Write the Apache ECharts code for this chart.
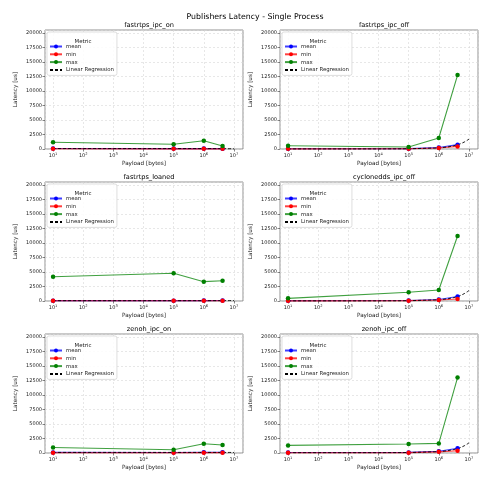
<!DOCTYPE html>
<html>
<head>
<meta charset="utf-8">
<script src="https://cdn.jsdelivr.net/npm/echarts@6.0.0/dist/echarts.min.js"></script>
<style>
  html, body { margin: 0; padding: 0; background: #fff; }
  #chart { width: 500px; height: 495px; }
</style>
</head>
<body>
<div id="chart"></div>
<script>
// payload sizes (bytes) measured in every run
var payload = [10, 100000, 1000000, 4194304];
// x positions used for the regression curve
var regX = [10, 100, 1000, 10000, 100000, 1000000, 2000000, 3000000, 4000000, 5000000, 6000000, 7000000, 8000000, 9000000, 10000000];

var panelNames = ['fastrtps_ipc_on', 'fastrtps_ipc_off', 'fastrtps_loaned', 'cyclonedds_ipc_off', 'zenoh_ipc_on', 'zenoh_ipc_off'];

var meanVals = [
  [90, 70, 90, 60],
  [50, 60, 250, 750],
  [60, 60, 70, 80],
  [50, 80, 250, 780],
  [100, 80, 120, 110],
  [80, 100, 300, 800]
];
var minVals = [
  [40, 30, 50, 30],
  [30, 40, 180, 450],
  [40, 40, 50, 50],
  [30, 60, 180, 350],
  [50, 40, 60, 60],
  [50, 60, 200, 400]
];
var maxVals = [
  [1150, 810, 1430, 520],
  [570, 350, 1900, 12740],
  [4190, 4770, 3330, 3500],
  [460, 1500, 1900, 11200],
  [960, 570, 1600, 1370],
  [1310, 1550, 1650, 13000]
];
var regVals = [
  [80, 80, 80, 80, 80, 75, 70, 65, 60, 55, 50, 45, 40, 35, 30],
  [20, 20, 20, 20, 40, 190, 356, 524, 692, 860, 1030, 1196, 1364, 1532, 1700],
  [60, 60, 60, 60, 60, 60, 60, 60, 65, 65, 65, 70, 70, 70, 70],
  [30, 30, 30, 30, 50, 210, 380, 560, 740, 910, 1090, 1270, 1440, 1620, 1800],
  [100, 100, 100, 100, 100, 100, 100, 100, 100, 95, 95, 95, 90, 90, 90],
  [60, 60, 60, 60, 80, 230, 400, 570, 740, 900, 1070, 1240, 1410, 1580, 1750]
];
var yTicks = { min: 0, max: 20500, interval: 2500 };

var grids = [
  [45, 30], [280, 30],
  [45, 182], [280, 182],
  [45, 334], [280, 334]
];
var GW = 198, GH = 119;

var chart = echarts.init(document.getElementById('chart'));
var font = 'DejaVu Sans';

var option = {
  animation: false,
  title: [{
    text: 'Publishers Latency - Single Process',
    left: 250, top: 8, textAlign: 'center',
    textStyle: { fontFamily: font, fontSize: 7.8, fontWeight: 'normal', color: '#000' }
  }],
  legend: [], grid: [], xAxis: [], yAxis: [], series: []
};

function supLabel(v) {
  var e = Math.round(Math.log(v) / Math.LN10);
  return '{b|10}{s|' + e + '}';
}

panelNames.forEach(function (name, i) {
  var gx = grids[i][0], gy = grids[i][1];
  option.title.push({
    text: name, left: gx + GW / 2, top: gy - 13, textAlign: 'center',
    textStyle: { fontFamily: font, fontSize: 6.6, fontWeight: 'normal', color: '#000' }
  });
  option.title.push({
    text: 'Metric', left: gx + 33, top: gy + 4, textAlign: 'center',
    textStyle: { fontFamily: font, fontSize: 5.4, fontWeight: 'normal', color: '#222' }
  });
  option.grid.push({
    left: gx, top: gy, width: GW, height: GH,
    show: true, borderColor: '#777', borderWidth: 0.8, backgroundColor: '#fff'
  });
  option.xAxis.push({
    type: 'log', gridIndex: i, min: 5.4, max: 20000000, logBase: 10,
    name: 'Payload [bytes]', nameLocation: 'middle', nameGap: 12,
    nameTextStyle: { fontFamily: font, fontSize: 5.7, color: '#222' },
    axisLine: { show: false },
    axisTick: { show: true, length: 2.5, lineStyle: { color: '#333', width: 0.6 } },
    axisLabel: {
      margin: 3, showMinLabel: false, showMaxLabel: false,
      formatter: supLabel,
      rich: {
        b: { fontFamily: font, fontSize: 5, color: '#222' },
        s: { fontFamily: font, fontSize: 3.6, color: '#222', verticalAlign: 'top', padding: [0, 0, 3, 0] }
      }
    },
    splitLine: { show: true, lineStyle: { color: '#d8d8d8', width: 0.6, type: [2, 2] } }
  });
  option.yAxis.push({
    type: 'value', gridIndex: i, min: yTicks.min, max: yTicks.max, interval: yTicks.interval,
    name: 'Latency [us]', nameLocation: 'middle', nameGap: 26,
    nameTextStyle: { fontFamily: font, fontSize: 5.7, color: '#222' },
    axisLine: { show: false },
    axisTick: { show: true, length: 2.5, lineStyle: { color: '#333', width: 0.6 } },
    axisLabel: {
      margin: 3, showMaxLabel: false, fontFamily: font, fontSize: 5, color: '#222',
      formatter: function (v) { return String(v); }
    },
    splitLine: { show: true, lineStyle: { color: '#d8d8d8', width: 0.6, type: [2, 2] } }
  });
  option.legend.push({
    orient: 'vertical', left: gx + 2, top: gy + 2,
    data: ['mean', 'min', 'max', { name: 'Linear Regression', itemStyle: { opacity: 0 } }],
    itemWidth: 12, itemHeight: 5, itemGap: 2.8,
    padding: [12, 3, 3, 2],
    borderColor: '#d0d0d0', borderWidth: 0.7, borderRadius: 2,
    backgroundColor: 'rgba(255,255,255,0.85)',
    textStyle: { fontFamily: font, fontSize: 5.4, color: '#222', padding: [0, 0, 0, -1] },
    selectedMode: false
  });
  var metrics = [
    ['mean', meanVals[i], '#0000ff'],
    ['min', minVals[i], '#ff0000'],
    ['max', maxVals[i], '#008000']
  ];
  metrics.forEach(function (m) {
    option.series.push({
      name: m[0], type: 'line', xAxisIndex: i, yAxisIndex: i,
      data: payload.map(function (x, j) { return [x, m[1][j]]; }),
      symbol: 'circle', symbolSize: 4.5, clip: false,
      itemStyle: { color: m[2] },
      lineStyle: { color: m[2], width: 1.1, opacity: 0.75 }
    });
  });
  option.series.push({
    name: 'Linear Regression', type: 'line', xAxisIndex: i, yAxisIndex: i,
    data: regX.map(function (x, j) { return [x, regVals[i][j]]; }),
    symbol: 'none', clip: false, smooth: false,
    itemStyle: { color: '#000' },
    lineStyle: { color: '#000', width: 0.9, type: [3, 2] }
  });
});

chart.setOption(option);
</script>
</body>
</html>
